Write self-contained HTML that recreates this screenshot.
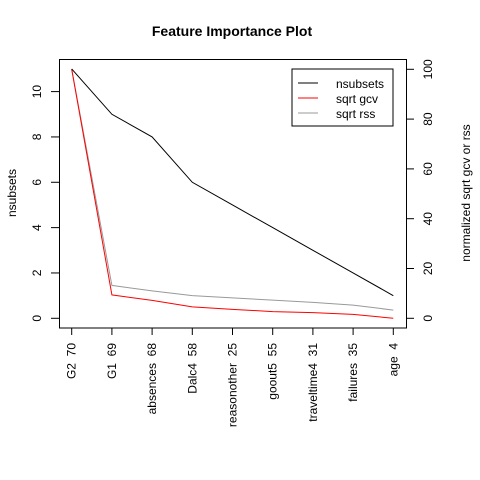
<!DOCTYPE html>
<html><head><meta charset="utf-8"><style>
body{margin:0;background:#fff}
svg{display:block;font-family:"Liberation Sans",Arial,sans-serif}
.xl{white-space:pre}
</style></head><body>
<svg id="chart" width="480" height="480" viewBox="0 0 480 480">
<rect width="480" height="480" fill="#fff"/>
<text x="232" y="36" text-anchor="middle" font-weight="bold" font-size="14">Feature Importance Plot</text>
<rect x="59.5" y="59.5" width="347" height="268.5" fill="none" stroke="#000"/>
<text transform="translate(16,193) rotate(-90)" text-anchor="middle" font-size="12">nsubsets</text>
<text transform="translate(470,193) rotate(-90)" text-anchor="middle" font-size="12">normalized sqrt gcv or rss</text>
<g id="axes"></g>
<g id="series"></g>
<g>
<rect x="292" y="69" width="101" height="57" fill="#fff" stroke="#000"/>
<line x1="298" y1="83" x2="318" y2="83" stroke="#000"/>
<line x1="298" y1="98" x2="318" y2="98" stroke="#f00"/>
<line x1="298" y1="113" x2="318" y2="113" stroke="#999"/>
<text x="336" y="88" font-size="12">nsubsets</text>
<text x="336" y="103" font-size="12">sqrt gcv</text>
<text x="336" y="118" font-size="12">sqrt rss</text>
</g>
</svg>
<script>
const categories=["G2  70","G1  69","absences  68","Dalc4  58","reasonother  25","goout5  55","traveltime4  31","failures  35","age  4"];
const nsubsets=[11,9,8,6,5,4,3,2,1];
const sqrtGcv=[100,9.4,7.2,4.6,3.6,2.7,2.3,1.6,0];
const sqrtRss=[100,13.2,11,9.1,8.2,7.3,6.4,5.3,3.3];
const leftTicks=[0,2,4,6,8,10];
const rightTicks=[0,20,40,60,80,100];
const NS="http://www.w3.org/2000/svg";
const x=i=>71.7+i*40.2;
const yL=v=>318.3-v*22.67;
const yR=v=>318.3-v*2.49;
const axes=document.getElementById('axes'),series=document.getElementById('series');
function mk(tag,attrs,parent,txt){const e=document.createElementNS(NS,tag);for(const k in attrs)e.setAttribute(k,attrs[k]);if(txt!==undefined)e.textContent=txt;parent.appendChild(e);return e;}
leftTicks.forEach(t=>{mk('line',{x1:51,x2:59.5,y1:yL(t),y2:yL(t),stroke:'#000'},axes);
const tx=mk('text',{transform:`translate(41,${yL(t)}) rotate(-90)`,'text-anchor':'middle','font-size':12},axes,String(t));

});
rightTicks.forEach(t=>{mk('line',{x1:406.5,x2:414,y1:yR(t),y2:yR(t),stroke:'#000'},axes);
const tx=mk('text',{transform:`translate(432,${yR(t)}) rotate(-90)`,'text-anchor':'middle','font-size':12},axes,String(t));

});
categories.forEach((c,i)=>{mk('line',{x1:x(i),x2:x(i),y1:328,y2:335,stroke:'#000'},axes);
const tx=mk('text',{transform:`translate(${x(i)+4},343) rotate(-90)`,'text-anchor':'end','font-size':12,'class':'xl'},axes,c);

});
function line(vals,fy,col,name){const p=mk('polyline',{points:vals.map((v,i)=>x(i)+','+fy(v)).join(' '),fill:'none',stroke:col,'stroke-width':1},series);

}
line(sqrtRss,yR,'#999','sqrt-rss-line');
line(sqrtGcv,yR,'#f00','sqrt-gcv-line');
line(nsubsets,yL,'#000','nsubsets-line');
</script>
</body></html>
